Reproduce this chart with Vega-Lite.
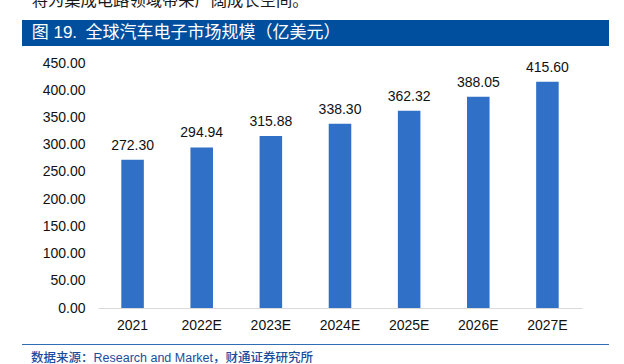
{
  "$schema": "https://vega.github.io/schema/vega-lite/v6.json",
  "background": "white",
  "padding": {"left": 22, "top": 0, "right": 0, "bottom": 0},
  "spacing": 0,
  "bounds": "flush",
  "config": {
    "view": {"stroke": null},
    "font": "Liberation Sans, Noto Sans CJK SC"
  },
  "datasets": {
    "market": [
      {"year": "2021", "value": 272.30},
      {"year": "2022E", "value": 294.94},
      {"year": "2023E", "value": 315.88},
      {"year": "2024E", "value": 338.30},
      {"year": "2025E", "value": 362.32},
      {"year": "2026E", "value": 388.05},
      {"year": "2027E", "value": 415.60}
    ],
    "intro": [{"t": "将为集成电路领域带来广阔成长空间。"}],
    "banner": [{"t": "图 19.\u2002全球汽车电子市场规模（亿美元）"}],
    "source": [{"t": "数据来源：Research and Market，财通证券研究所"}],
    "one": [{"k": 1}]
  },
  "vconcat": [
    {
      "width": 587,
      "height": 20,
      "data": {"name": "intro"},
      "mark": {"type": "text", "clip": true, "align": "left", "baseline": "alphabetic", "dx": 9.7, "dy": -4.5, "fontSize": 16.3, "font": "Noto Sans CJK SC", "color": "#1a1a1a"},
      "encoding": {
        "x": {"datum": 0, "type": "quantitative", "scale": {"domain": [0, 1]}, "axis": null},
        "text": {"field": "t"}
      }
    },
    {
      "width": 587,
      "height": 26,
      "layer": [
        {
          "data": {"name": "one"},
          "mark": {"type": "rect", "color": "#004F9F"}
        },
        {
          "data": {"name": "banner"},
          "mark": {"type": "text", "align": "left", "baseline": "middle", "dx": 9.7, "fontSize": 17, "font": "Liberation Sans, Noto Sans CJK SC", "color": "white"},
          "encoding": {
            "x": {"datum": 0, "type": "quantitative", "scale": {"domain": [0, 1]}, "axis": null},
            "text": {"field": "t"}
          }
        }
      ]
    },
    {
      "width": 587,
      "height": 17,
      "data": {"name": "one"},
      "mark": {"type": "rect", "color": "white", "opacity": 0}
    },
    {
      "width": 587,
      "height": 245,
      "data": {"name": "market"},
      "encoding": {
        "x": {
          "field": "year",
          "type": "ordinal",
          "sort": null,
          "scale": {"range": [76, 560], "paddingInner": 0.674, "paddingOuter": 0.337},
          "axis": {
            "title": null,
            "labelAngle": 0,
            "labelFontSize": 14,
            "labelColor": "#111111",
            "labelPadding": 10,
            "ticks": false,
            "domainColor": "#D9D9D9",
            "domainWidth": 1,
            "labelFont": "Liberation Sans"
          }
        },
        "y": {
          "field": "value",
          "type": "quantitative",
          "scale": {"domain": [0, 450]},
          "axis": {
            "title": null,
            "offset": -76,
            "values": [0, 50, 100, 150, 200, 250, 300, 350, 400, 450],
            "format": ".2f",
            "grid": false,
            "domain": false,
            "ticks": false,
            "labelPadding": 13,
            "labelFontSize": 14,
            "labelColor": "#111111",
            "labelFont": "Liberation Sans"
          }
        }
      },
      "layer": [
        {"mark": {"type": "bar", "color": "#3070C6"}},
        {
          "mark": {"type": "text", "dy": -10, "baseline": "alphabetic", "fontSize": 14, "color": "#111111", "font": "Liberation Sans"},
          "encoding": {"text": {"field": "value", "type": "quantitative", "format": ".2f"}}
        }
      ]
    },
    {
      "width": 587,
      "height": 36,
      "data": {"name": "one"},
      "mark": {"type": "rect", "color": "white", "opacity": 0}
    },
    {
      "width": 587,
      "height": 1,
      "data": {"name": "one"},
      "mark": {"type": "rect", "color": "#2F6DB5"}
    },
    {
      "width": 587,
      "height": 25,
      "data": {"name": "source"},
      "mark": {"type": "text", "align": "left", "baseline": "middle", "dx": 9, "fontSize": 12.5, "fontWeight": 500, "font": "Liberation Sans, Noto Sans CJK SC", "color": "#1C4C9C"},
      "encoding": {
        "x": {"datum": 0, "type": "quantitative", "scale": {"domain": [0, 1]}, "axis": null},
        "text": {"field": "t"}
      }
    }
  ]
}
